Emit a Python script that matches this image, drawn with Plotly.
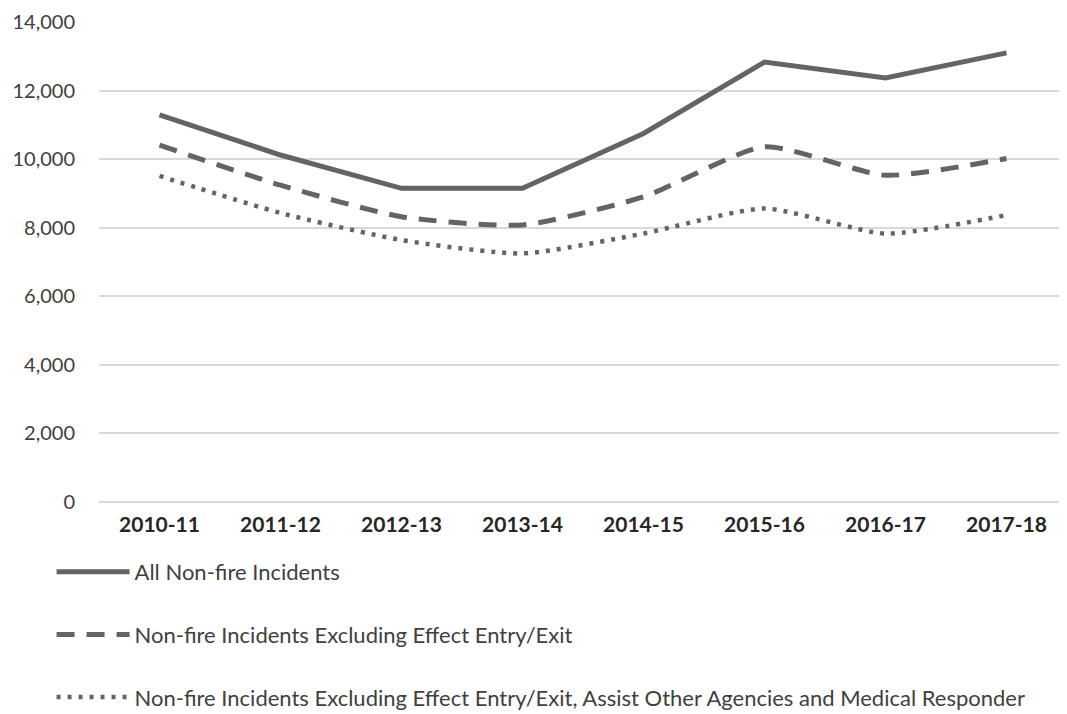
import plotly.graph_objects as go

years = ["2010-11", "2011-12", "2012-13", "2013-14", "2014-15", "2015-16", "2016-17", "2017-18"]
all_incidents = [11290, 10120, 9150, 9150, 10750, 12830, 12370, 13100]
excl_entry_exit = [10410, 9240, 8320, 8080, 8900, 10360, 9530, 10020]
excl_entry_assist_medical = [9510, 8430, 7640, 7250, 7830, 8560, 7830, 8370]

names = [
    "All Non-fire Incidents",
    "Non-fire Incidents Excluding Effect Entry/Exit",
    "Non-fire Incidents Excluding Effect Entry/Exit, Assist Other Agencies and Medical Responder",
]

line_color = "#646464"
font_family = "Lato, Open Sans, sans-serif"

fig = go.Figure()
fig.add_trace(go.Scatter(
    x=years, y=all_incidents, name=names[0], mode="lines", legendgroup="a",
    line=dict(color=line_color, width=5),
))
fig.add_trace(go.Scatter(
    x=years, y=excl_entry_exit, name=names[1], mode="lines", legendgroup="b",
    line=dict(color=line_color, width=5, dash="18px,12px", shape="spline", smoothing=0.6),
))
fig.add_trace(go.Scatter(
    x=years, y=excl_entry_assist_medical, name=names[2], mode="lines", legendgroup="c",
    line=dict(color=line_color, width=4.5, dash="4px,7px", shape="spline", smoothing=0.6),
))

# the page body adds an 8px offset, so margins are set 8px tighter
fig.update_layout(
    width=1067, height=714,
    margin=dict(l=91, r=8, t=14, b=220),
    plot_bgcolor="white", paper_bgcolor="white",
    font=dict(family=font_family, color="#404040"),
    showlegend=True,
    legend=dict(
        xref="paper", yref="container",
        x=-0.049, xanchor="left", y=0.2395, yanchor="top",
        orientation="v", tracegroupgap=31,
        font=dict(size=22, color="#404040", family=font_family),
        itemwidth=73,
    ),
    xaxis=dict(
        type="category", range=[-0.5, 7.5], automargin=False,
        showgrid=False, showline=False, zeroline=False,
        tickfont=dict(size=21, color="#262626", family=font_family, weight="bold"),
        ticklabelstandoff=8,
    ),
    yaxis=dict(
        range=[0, 14000], dtick=2000, tickformat=",", automargin=False,
        showgrid=True, gridcolor="#d9d9d9", gridwidth=1.5,
        zeroline=True, zerolinecolor="#d9d9d9", zerolinewidth=1.5,
        showline=False,
        tickfont=dict(size=20, color="#404040", family=font_family),
        ticklabelstandoff=23,
    ),
)

fig.write_html("out.html")
